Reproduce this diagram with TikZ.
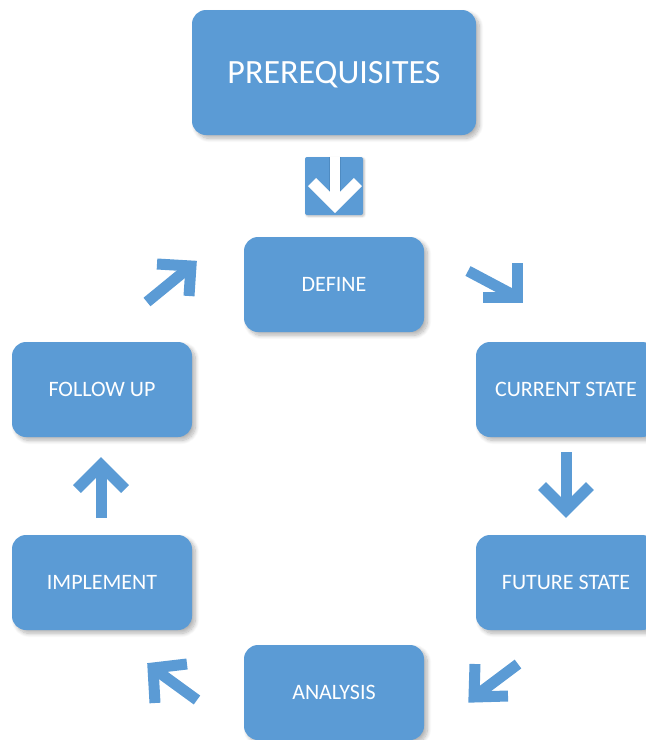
\documentclass[tikz,border=0pt]{standalone}
\usepackage{fontspec}
\setmainfont{Carlito}
\usetikzlibrary{shadows.blur}

\definecolor{boxblue}{HTML}{5B9BD5}
\definecolor{boxshade}{HTML}{3F78AD}

\tikzset{
  stepbox/.style={fill=boxblue, text=white, rounded corners=10.5pt,
    minimum width=135pt, minimum height=71.25pt, inner sep=0pt,
    font=\fontsize{16.5}{18}\selectfont, text height=10.6pt, text depth=0pt,
    blur shadow={shadow xshift=2.5pt, shadow yshift=-2.5pt,
      shadow blur radius=3pt, shadow blur steps=10, shadow opacity=30}},
  titlebox/.style={stepbox, minimum width=213pt, minimum height=93.75pt,
    font=\fontsize{25.5}{28}\selectfont, text height=16.4pt},
  flowarrow/.style={draw=boxblue, line width=8.25pt, line join=miter, line cap=butt},
  whitearrow/.style={draw=white, line width=8.5pt, line join=miter, line cap=butt},
  shadearrow/.style={draw=boxshade, line width=8.5pt, line join=miter, line cap=butt, opacity=0.45},
}

\begin{document}
% one unit = one pixel, y grows downwards
\begin{tikzpicture}[x=0.75pt, y=-0.75pt]
  \useasboundingbox (0,0) rectangle (646,740);
  \clip (0,0) rectangle (646,740);

  % boxes
  \node[titlebox] (pre) at (334,72.5)  {PREREQUISITES};
  \node[stepbox]  (def) at (334,284.5) {DEFINE};
  \node[stepbox]  (fol) at (102,389.5) {FOLLOW UP};
  \node[stepbox]  (cur) at (566,389.5) {CURRENT STATE};
  \node[stepbox]  (imp) at (102,582.5) {IMPLEMENT};
  \node[stepbox]  (fut) at (566,582.5) {FUTURE STATE};
  \node[stepbox]  (ana) at (334,692.5) {ANALYSIS};

  % square tile with white arrow below the title box
  \node[fill=boxblue, minimum size=43.5pt, inner sep=0pt, rounded corners=1.5pt,
        blur shadow={shadow xshift=1pt, shadow yshift=-1pt, shadow blur radius=1.5pt, shadow opacity=25}]
        (tile) at (334,186) {};
  \coordinate (tt) at (335,157);
  \coordinate (tp) at (335,205);
  \coordinate (tl) at (312,182);
  \coordinate (tr) at (358,182);
  \begin{scope}
    \clip (tile.south west) rectangle (tile.north east);
    \begin{scope}[shift={(2.5,2.5)}]
      \draw[shadearrow] (tt) -- (tp);
      \draw[shadearrow] (tl) -- (tp) -- (tr);
    \end{scope}
    \draw[whitearrow, line width=7.5pt] (tt) -- (tp);
    \draw[whitearrow] (tl) -- (tp) -- (tr);
  \end{scope}

  % cycle arrows: tail, tip, and the two barbs of each head
  \coordinate (a1t) at (147,302); \coordinate (a1p) at (191,266);
  \coordinate (a1l) at (157,264); \coordinate (a1r) at (189,296);
  \coordinate (a2t) at (468,271); \coordinate (a2p) at (517,297);
  \coordinate (a2l) at (517,263); \coordinate (a2r) at (483,297);
  \coordinate (a3t) at (566,452); \coordinate (a3p) at (566,510);
  \coordinate (a3l) at (542,486); \coordinate (a3r) at (590,486);
  \coordinate (a4t) at (101,518); \coordinate (a4p) at (101,465);
  \coordinate (a4l) at (77,489);  \coordinate (a4r) at (125,489);
  \coordinate (a5t) at (518,664); \coordinate (a5p) at (474,697);
  \coordinate (a5l) at (475,664); \coordinate (a5r) at (508,696);
  \coordinate (a6t) at (197,700); \coordinate (a6p) at (153,668);
  \coordinate (a6l) at (187,664); \coordinate (a6r) at (155,703);

  \foreach \a in {a1,a2,a3,a4,a5,a6}{
    \draw[flowarrow] (\a t) -- (\a p);
    \draw[flowarrow] (\a l) -- (\a p) -- (\a r);
  }
\end{tikzpicture}
\end{document}
